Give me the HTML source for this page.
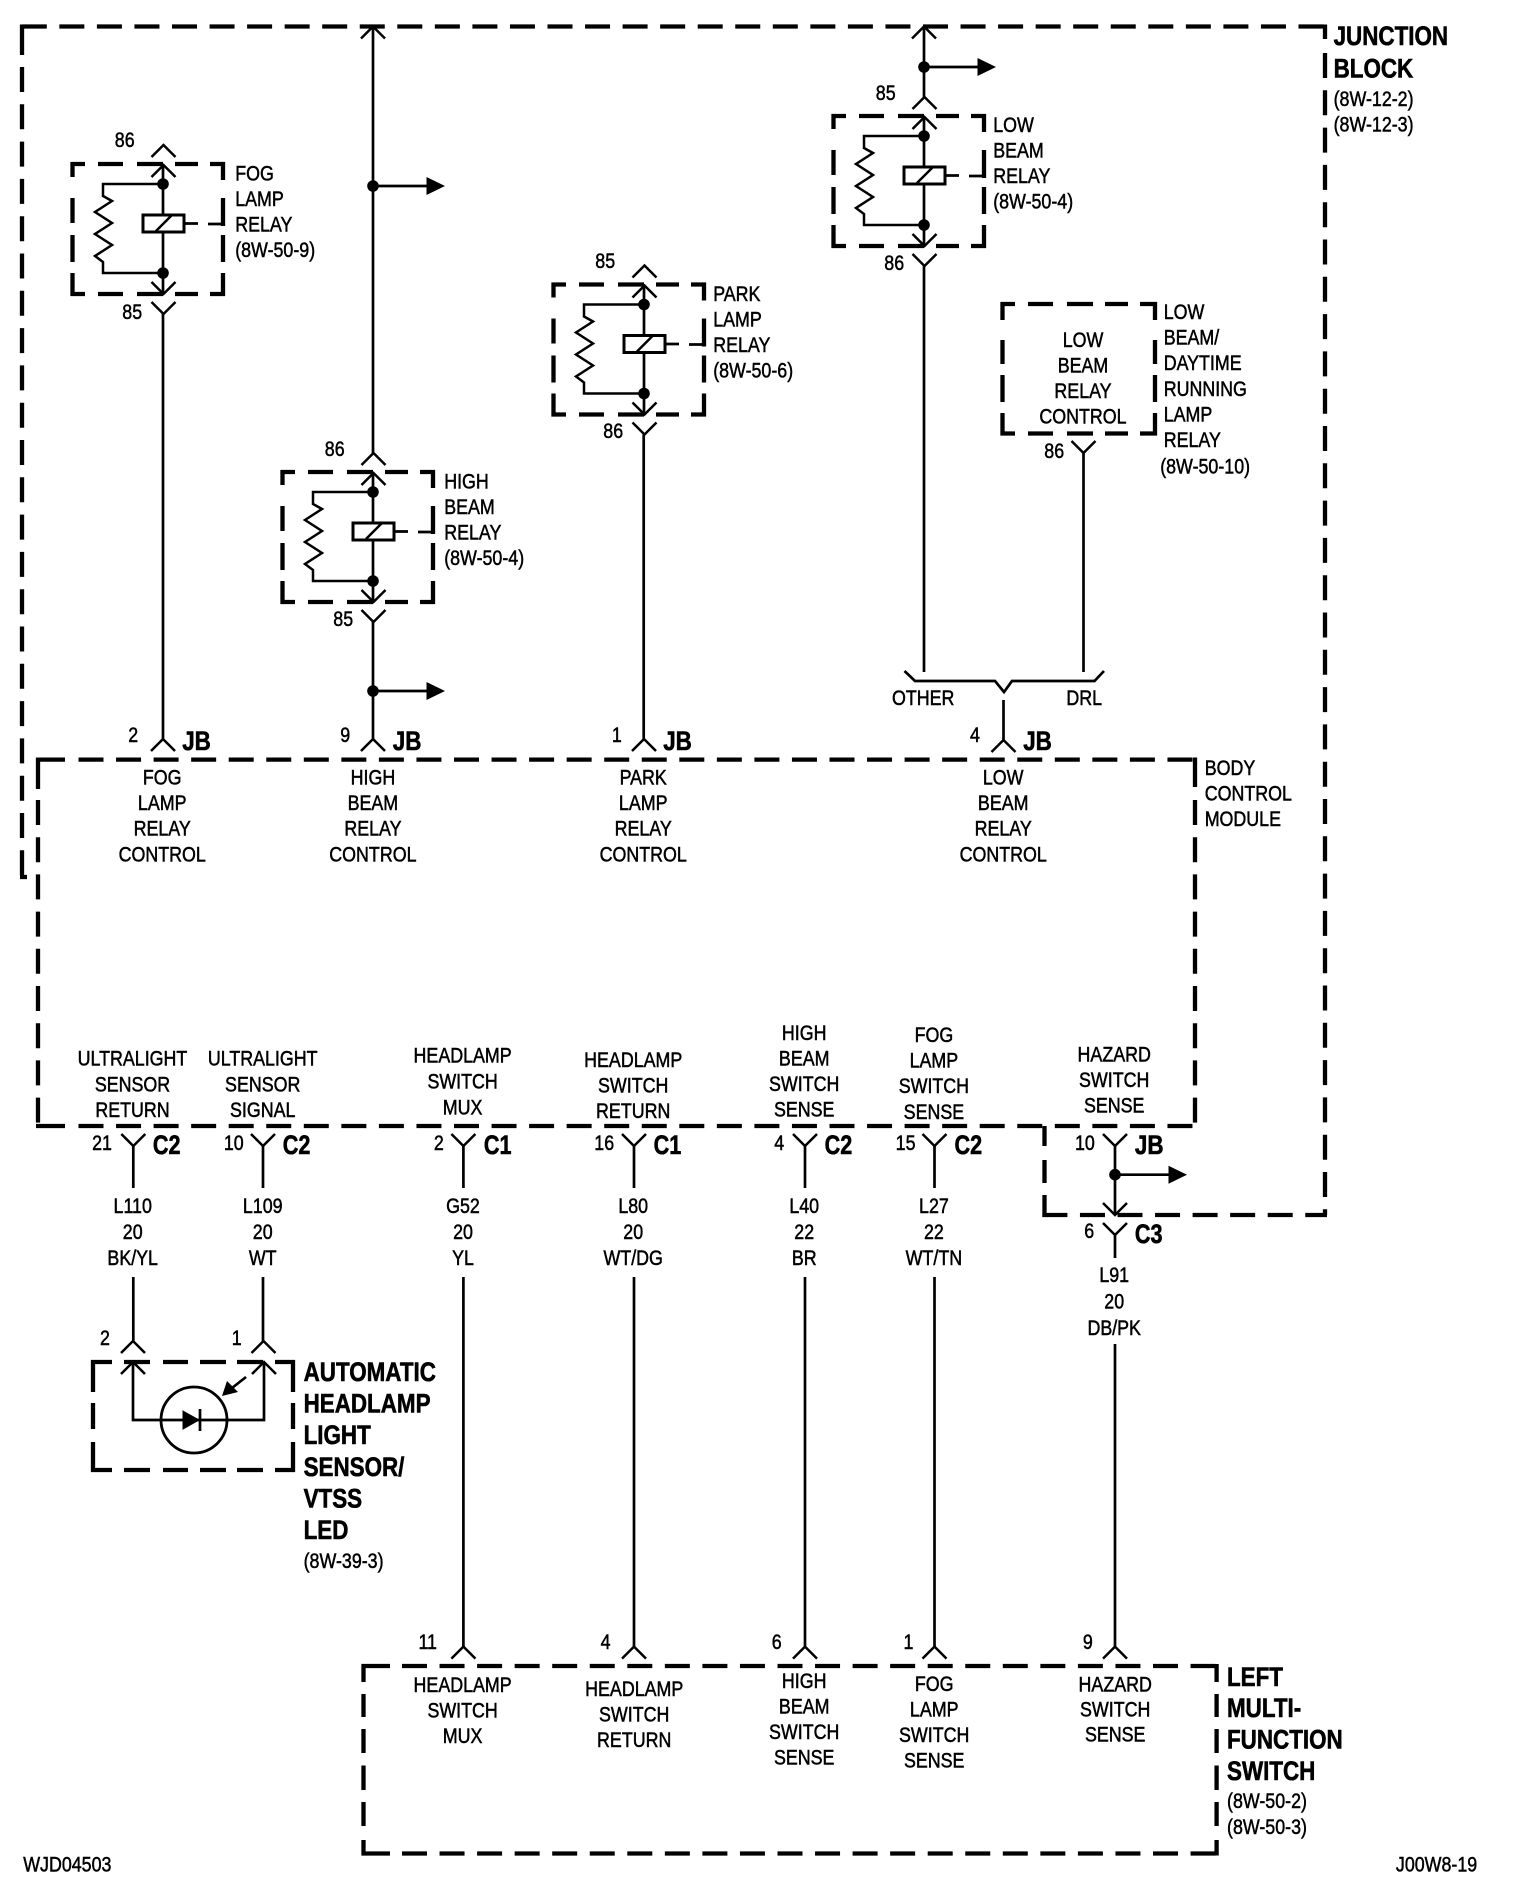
<!DOCTYPE html>
<html><head><meta charset="utf-8"><title>Headlamp relay wiring diagram</title>
<style>
html,body{margin:0;padding:0;background:#fff}
svg{display:block}
text{font-family:"Liberation Sans",sans-serif;font-size:21px;fill:#000;stroke:#000;stroke-width:.5px}
.m{text-anchor:middle}
.b{font-weight:bold;font-size:27px;stroke-width:.6px}
.d{fill:none;stroke:#000;stroke-width:4.3}
.w{fill:none;stroke:#000;stroke-width:2.7}
.c{fill:none;stroke:#000;stroke-width:2.5}
</style></head><body>
<svg width="1520" height="1898" viewBox="0 0 1520 1898" xmlns="http://www.w3.org/2000/svg">
<defs>
<path id="up" class="c" d="M-12 12L0 0L12 12"/>
<path id="dn" class="c" d="M-12 -12L0 0L12 -12"/>
<g id="arrow"><circle r="5.8" fill="#000"/><path d="M0 0H56" class="w"/><path d="M53.5 -9L72 0L53.5 9Z" fill="#000"/></g>
<g id="relay">
<path class="d" d="M70.5 164H85M98 164H123M137 164H163M175 164H198M210 164H225M70.5 294H85M98 294H123M137 294H163M175 294H198M210 294H225M72.5 162V177M72.5 198V223M72.5 235V262M72.5 273V296M223 162V180M223 198V226M223 235V262M223 273V296"/>
<path class="w" d="M208 224H223M184 223.5H198"/>
<path class="w" d="M163 165V294"/>
<path class="c" d="M163 184H103V196L112 201L95 212L112 223L95 234L112 245L95 256L103 262V273H163"/>
<circle cx="163" cy="184" r="5.8" fill="#000"/><circle cx="163" cy="273" r="5.8" fill="#000"/>
<rect x="143" y="215" width="41" height="17" fill="#fff" stroke="#000" stroke-width="3"/>
<path class="c" d="M156 231L172 215"/>
<use href="#up" x="163.5" y="165"/><use href="#up" x="163.5" y="145"/>
<use href="#dn" x="163.5" y="294"/><use href="#dn" x="163.5" y="314"/>
</g>
</defs>
<rect width="1520" height="1898" fill="#fff"/>

<!-- Junction block -->
<path class="d" d="M19.8 26.5H1327" stroke-dasharray="25 12.55" stroke-dashoffset="-2"/>
<path class="d" d="M22 24.5V55"/>
<path class="d" d="M22 67V879" stroke-dasharray="25 12.3"/>
<path class="d" d="M20 877H27"/>
<path class="d" d="M1325 24.5V39"/>
<path class="d" d="M1325 53V1215" stroke-dasharray="25 12.3"/>
<path class="d" d="M1042.4 1215H1327" stroke-dasharray="25 12.55"/>
<path class="d" d="M1044.5 1126V1146M1044.5 1160V1183M1044.5 1195V1217"/>

<!-- Body control module -->
<path class="d" d="M36 759.6H65"/>
<path class="d" d="M78.5 759.6H1197" stroke-dasharray="25 12.55"/>
<path class="d" d="M36 1126H65"/>
<path class="d" d="M78.5 1126H1197" stroke-dasharray="25 12.55"/>
<path class="d" d="M38 757.5V789"/>
<path class="d" d="M38 800V1128" stroke-dasharray="25 12.2"/>
<path class="d" d="M1195 757.5V787"/>
<path class="d" d="M1195 800V1128" stroke-dasharray="25 12.2"/>

<!-- Left multi-function switch -->
<path class="d" d="M361.5 1666H390"/>
<path class="d" d="M402 1666H1218.6" stroke-dasharray="25 12.55"/>
<path class="d" d="M361.5 1853.5H390"/>
<path class="d" d="M402 1853.5H1218.6" stroke-dasharray="25 12.55"/>
<path class="d" d="M363.5 1664V1682M363.5 1694V1717M363.5 1729V1753M363.5 1765.5V1790M363.5 1802V1826M363.5 1840V1855.5"/>
<path class="d" d="M1216.6 1664V1682M1216.6 1694V1717M1216.6 1729V1753M1216.6 1765.5V1790M1216.6 1802V1826M1216.6 1840V1855.5"/>

<!-- Sensor box -->
<path class="d" d="M91 1362H112M124 1362H150M163 1362H188M200 1362H226M237 1362H263M275 1362H295M91 1470H112M124 1470H150M163 1470H188M200 1470H226M237 1470H263M275 1470H295M93 1360V1392M93 1403V1429M93 1442V1472M293 1360V1392M293 1403V1429M293 1442V1472"/>
<path class="w" d="M133 1362V1420H264V1362"/>
<circle cx="194" cy="1420" r="33" fill="none" stroke="#000" stroke-width="2.8"/>
<path d="M183 1411L199 1420L183 1429Z" fill="#000" stroke="#000" stroke-width="1"/>
<path class="w" d="M200 1409V1431"/>
<path class="w" d="M246 1377L232 1388"/>
<path d="M222 1396L227 1381L238 1392Z" fill="#000"/>
<use href="#up" x="133" y="1362"/><use href="#up" x="264" y="1362"/>
<use href="#up" x="133" y="1341"/><use href="#up" x="263.5" y="1341"/>

<!-- Relays -->
<use href="#relay"/>
<use href="#relay" x="210" y="308"/>
<use href="#relay" x="481" y="120.5"/>
<use href="#relay" x="761" y="-48"/>

<!-- DRL box -->
<path class="d" d="M1000.5 304H1015M1028 304H1053M1067 304H1093M1105 304H1128M1140 304H1157M1000.5 433.5H1015M1028 433.5H1053M1067 433.5H1093M1105 433.5H1128M1140 433.5H1157M1002.5 302V320M1002.5 340V364M1002.5 375V402M1002.5 413V435.5M1155 302V320M1155 340V364M1155 375V402M1155 413V435.5"/>

<!-- Wires -->
<path class="w" d="M163 314V739M373 26.5V453M373 622V739M643.7 434.5V739M924 26.5V97M924 266V672M1083.5 453V672M1003.5 700V740"/>
<path class="w" d="M904.5 671L915 681H995L1004 692L1012 681H1094.5L1104 671"/>
<path class="w" d="M133.3 1146V1188M263 1146V1188M463.4 1146V1188M634 1146V1188M805 1146V1188M934.5 1146V1188M1115 1146V1215M1115 1235V1258"/>
<path class="w" d="M133.3 1277V1341M263 1277V1341M463.4 1277V1647M634 1277V1647M805 1277V1647M934.5 1277V1647M1115 1344V1647"/>

<use href="#up" x="373" y="26.5"/><use href="#up" x="924" y="26.5"/>
<use href="#up" x="163" y="739"/><use href="#up" x="373" y="739"/><use href="#up" x="644" y="739"/><use href="#up" x="1003.5" y="740"/>
<use href="#dn" x="1083.5" y="453"/>
<use href="#dn" x="133.3" y="1146"/><use href="#dn" x="263" y="1146"/><use href="#dn" x="463.4" y="1146"/><use href="#dn" x="634" y="1146"/><use href="#dn" x="805" y="1146"/><use href="#dn" x="934.5" y="1146"/><use href="#dn" x="1115" y="1146"/>
<use href="#dn" x="1115" y="1215"/><use href="#dn" x="1115" y="1235"/>
<use href="#up" x="463.4" y="1646.6"/><use href="#up" x="634" y="1646.6"/><use href="#up" x="805" y="1646.6"/><use href="#up" x="934.5" y="1646.6"/><use href="#up" x="1115" y="1646.6"/>

<use href="#arrow" x="373" y="186"/>
<use href="#arrow" x="373" y="691"/>
<use href="#arrow" x="924" y="67"/>
<use href="#arrow" x="1115" y="1174.7"/>

<!-- Labels -->
<g transform="translate(-.8 -1)">
<text transform="translate(236 181.7)scale(.85 1)"><tspan x="0">FOG</tspan><tspan x="0" dy="25.5">LAMP</tspan><tspan x="0" dy="25.5">RELAY</tspan><tspan x="0" dy="25.5">(8W-50-9)</tspan></text>
<text class="m" transform="translate(125.5 148)scale(.85 1)">86</text>
<text class="m" transform="translate(133 320)scale(.85 1)">85</text>

<text transform="translate(445 489.7)scale(.85 1)"><tspan x="0">HIGH</tspan><tspan x="0" dy="25.5">BEAM</tspan><tspan x="0" dy="25.5">RELAY</tspan><tspan x="0" dy="25.5">(8W-50-4)</tspan></text>
<text class="m" transform="translate(335.5 457)scale(.85 1)">86</text>
<text class="m" transform="translate(344 627)scale(.85 1)">85</text>

<text transform="translate(714 302)scale(.85 1)"><tspan x="0">PARK</tspan><tspan x="0" dy="25.5">LAMP</tspan><tspan x="0" dy="25.5">RELAY</tspan><tspan x="0" dy="25.5">(8W-50-6)</tspan></text>
<text class="m" transform="translate(606 269)scale(.85 1)">85</text>
<text class="m" transform="translate(614 439)scale(.85 1)">86</text>

<text transform="translate(994 133)scale(.85 1)"><tspan x="0">LOW</tspan><tspan x="0" dy="25.5">BEAM</tspan><tspan x="0" dy="25.5">RELAY</tspan><tspan x="0" dy="25.5">(8W-50-4)</tspan></text>
<text class="m" transform="translate(886.5 101)scale(.85 1)">85</text>
<text class="m" transform="translate(895 271)scale(.85 1)">86</text>

<text transform="translate(1164.5 320)scale(.85 1)"><tspan x="0">LOW</tspan><tspan x="0" dy="25.5">BEAM/</tspan><tspan x="0" dy="25.7">DAYTIME</tspan><tspan x="0" dy="25.7">RUNNING</tspan><tspan x="0" dy="25.5">LAMP</tspan><tspan x="0" dy="25.7">RELAY</tspan></text>
<text transform="translate(1161 474.7)scale(.85 1)">(8W-50-10)</text>
<text class="m" transform="translate(1083.8 348)scale(.85 1)"><tspan x="0">LOW</tspan><tspan x="0" dy="25.5">BEAM</tspan><tspan x="0" dy="25.5">RELAY</tspan><tspan x="0" dy="25.5">CONTROL</tspan></text>
<text class="m" transform="translate(1055 459)scale(.85 1)">86</text>

<text class="b" transform="translate(1334.4 46)scale(.83 1)"><tspan x="0">JUNCTION</tspan><tspan x="0" dy="32.4">BLOCK</tspan></text>
<text transform="translate(1334.4 107)scale(.85 1)"><tspan x="0">(8W-12-2)</tspan><tspan x="0" dy="25.7">(8W-12-3)</tspan></text>

<text class="m" transform="translate(924 706)scale(.85 1)">OTHER</text>
<text class="m" transform="translate(1085 706)scale(.85 1)">DRL</text>

<!-- JB row -->
<text class="m" transform="translate(134 743)scale(.85 1)">2</text>
<text class="b" transform="translate(183 751)scale(.83 1)">JB</text>
<text class="m" transform="translate(346 743)scale(.85 1)">9</text>
<text class="b" transform="translate(393.6 751)scale(.83 1)">JB</text>
<text class="m" transform="translate(617.6 743)scale(.85 1)">1</text>
<text class="b" transform="translate(664 751)scale(.83 1)">JB</text>
<text class="m" transform="translate(975.7 743)scale(.85 1)">4</text>
<text class="b" transform="translate(1024 751)scale(.83 1)">JB</text>

<!-- BCM top labels -->
<text class="m" transform="translate(163 785.5)scale(.85 1)"><tspan x="0">FOG</tspan><tspan x="0" dy="25.6">LAMP</tspan><tspan x="0" dy="25.6">RELAY</tspan><tspan x="0" dy="25.6">CONTROL</tspan></text>
<text class="m" transform="translate(373.7 785.5)scale(.85 1)"><tspan x="0">HIGH</tspan><tspan x="0" dy="25.6">BEAM</tspan><tspan x="0" dy="25.6">RELAY</tspan><tspan x="0" dy="25.6">CONTROL</tspan></text>
<text class="m" transform="translate(644 785.5)scale(.85 1)"><tspan x="0">PARK</tspan><tspan x="0" dy="25.6">LAMP</tspan><tspan x="0" dy="25.6">RELAY</tspan><tspan x="0" dy="25.6">CONTROL</tspan></text>
<text class="m" transform="translate(1004 785.5)scale(.85 1)"><tspan x="0">LOW</tspan><tspan x="0" dy="25.6">BEAM</tspan><tspan x="0" dy="25.6">RELAY</tspan><tspan x="0" dy="25.6">CONTROL</tspan></text>
<text transform="translate(1205.5 776)scale(.85 1)"><tspan x="0">BODY</tspan><tspan x="0" dy="25.5">CONTROL</tspan><tspan x="0" dy="25.5">MODULE</tspan></text>

<!-- BCM bottom labels -->
<text class="m" transform="translate(133.3 1066.5)scale(.85 1)"><tspan x="0">ULTRALIGHT</tspan><tspan x="0" dy="25.8">SENSOR</tspan><tspan x="0" dy="25.8">RETURN</tspan></text>
<text class="m" transform="translate(263.5 1066.5)scale(.85 1)"><tspan x="0">ULTRALIGHT</tspan><tspan x="0" dy="25.8">SENSOR</tspan><tspan x="0" dy="25.8">SIGNAL</tspan></text>
<text class="m" transform="translate(463.4 1063.7)scale(.85 1)"><tspan x="0">HEADLAMP</tspan><tspan x="0" dy="25.8">SWITCH</tspan><tspan x="0" dy="25.8">MUX</tspan></text>
<text class="m" transform="translate(634 1067.8)scale(.85 1)"><tspan x="0">HEADLAMP</tspan><tspan x="0" dy="25.6">SWITCH</tspan><tspan x="0" dy="25.6">RETURN</tspan></text>
<text class="m" transform="translate(805 1040.8)scale(.85 1)"><tspan x="0">HIGH</tspan><tspan x="0" dy="25.6">BEAM</tspan><tspan x="0" dy="25.6">SWITCH</tspan><tspan x="0" dy="25.6">SENSE</tspan></text>
<text class="m" transform="translate(934.7 1043)scale(.85 1)"><tspan x="0">FOG</tspan><tspan x="0" dy="25.6">LAMP</tspan><tspan x="0" dy="25.6">SWITCH</tspan><tspan x="0" dy="25.6">SENSE</tspan></text>
<text class="m" transform="translate(1115 1062.4)scale(.85 1)"><tspan x="0">HAZARD</tspan><tspan x="0" dy="25.6">SWITCH</tspan><tspan x="0" dy="25.6">SENSE</tspan></text>

<!-- Pin row -->
<text class="m" transform="translate(102.8 1151)scale(.85 1)">21</text>
<text class="b" transform="translate(153.7 1155)scale(.8 1)">C2</text>
<text class="m" transform="translate(234.6 1151)scale(.85 1)">10</text>
<text class="b" transform="translate(283.6 1155)scale(.8 1)">C2</text>
<text class="m" transform="translate(439.6 1151)scale(.85 1)">2</text>
<text class="b" transform="translate(484.7 1155)scale(.8 1)">C1</text>
<text class="m" transform="translate(605 1151)scale(.85 1)">16</text>
<text class="b" transform="translate(654.4 1155)scale(.8 1)">C1</text>
<text class="m" transform="translate(780 1151)scale(.85 1)">4</text>
<text class="b" transform="translate(825.4 1155)scale(.8 1)">C2</text>
<text class="m" transform="translate(906.4 1151)scale(.85 1)">15</text>
<text class="b" transform="translate(955.3 1155)scale(.8 1)">C2</text>
<text class="m" transform="translate(1085.7 1151)scale(.85 1)">10</text>
<text class="b" transform="translate(1135.7 1155)scale(.83 1)">JB</text>
<text class="m" transform="translate(1090 1239)scale(.85 1)">6</text>
<text class="b" transform="translate(1135.7 1244)scale(.8 1)">C3</text>

<!-- Wire labels -->
<text class="m" transform="translate(133.5 1214)scale(.85 1)"><tspan x="0">L110</tspan><tspan x="0" dy="26">20</tspan><tspan x="0" dy="26">BK/YL</tspan></text>
<text class="m" transform="translate(263.5 1214)scale(.85 1)"><tspan x="0">L109</tspan><tspan x="0" dy="26">20</tspan><tspan x="0" dy="26">WT</tspan></text>
<text class="m" transform="translate(463.8 1214)scale(.85 1)"><tspan x="0">G52</tspan><tspan x="0" dy="26">20</tspan><tspan x="0" dy="26">YL</tspan></text>
<text class="m" transform="translate(634 1214)scale(.85 1)"><tspan x="0">L80</tspan><tspan x="0" dy="26">20</tspan><tspan x="0" dy="26">WT/DG</tspan></text>
<text class="m" transform="translate(805 1214)scale(.85 1)"><tspan x="0">L40</tspan><tspan x="0" dy="26">22</tspan><tspan x="0" dy="26">BR</tspan></text>
<text class="m" transform="translate(934.7 1214)scale(.85 1)"><tspan x="0">L27</tspan><tspan x="0" dy="26">22</tspan><tspan x="0" dy="26">WT/TN</tspan></text>
<text class="m" transform="translate(1115 1283)scale(.85 1)"><tspan x="0">L91</tspan><tspan x="0" dy="26.5">20</tspan><tspan x="0" dy="26.5">DB/PK</tspan></text>

<!-- Sensor labels -->
<text class="m" transform="translate(105.7 1346)scale(.85 1)">2</text>
<text class="m" transform="translate(237.5 1346)scale(.85 1)">1</text>
<text class="b" transform="translate(304.4 1382)scale(.83 1)"><tspan x="0">AUTOMATIC</tspan><tspan x="0" dy="31.6">HEADLAMP</tspan><tspan x="0" dy="31.6">LIGHT</tspan><tspan x="0" dy="31.6">SENSOR/</tspan><tspan x="0" dy="31.6">VTSS</tspan><tspan x="0" dy="31.6">LED</tspan></text>
<text transform="translate(304.4 1569)scale(.85 1)">(8W-39-3)</text>

<!-- MFS labels -->
<text class="m" transform="translate(428.5 1650)scale(.85 1)">11</text>
<text class="m" transform="translate(606.4 1650)scale(.85 1)">4</text>
<text class="m" transform="translate(777.5 1650)scale(.85 1)">6</text>
<text class="m" transform="translate(909.3 1650)scale(.85 1)">1</text>
<text class="m" transform="translate(1088.6 1650)scale(.85 1)">9</text>
<text class="m" transform="translate(463.4 1693)scale(.85 1)"><tspan x="0">HEADLAMP</tspan><tspan x="0" dy="25.6">SWITCH</tspan><tspan x="0" dy="25.6">MUX</tspan></text>
<text class="m" transform="translate(635 1697)scale(.85 1)"><tspan x="0">HEADLAMP</tspan><tspan x="0" dy="25.5">SWITCH</tspan><tspan x="0" dy="25.5">RETURN</tspan></text>
<text class="m" transform="translate(805 1689)scale(.85 1)"><tspan x="0">HIGH</tspan><tspan x="0" dy="25.6">BEAM</tspan><tspan x="0" dy="25.6">SWITCH</tspan><tspan x="0" dy="25.4">SENSE</tspan></text>
<text class="m" transform="translate(935 1692)scale(.85 1)"><tspan x="0">FOG</tspan><tspan x="0" dy="25.5">LAMP</tspan><tspan x="0" dy="25.5">SWITCH</tspan><tspan x="0" dy="25.3">SENSE</tspan></text>
<text class="m" transform="translate(1116 1692.3)scale(.85 1)"><tspan x="0">HAZARD</tspan><tspan x="0" dy="25.2">SWITCH</tspan><tspan x="0" dy="25.2">SENSE</tspan></text>
<text class="b" transform="translate(1227.8 1686.8)scale(.83 1)"><tspan x="0">LEFT</tspan><tspan x="0" dy="31.4">MULTI-</tspan><tspan x="0" dy="31.2">FUNCTION</tspan><tspan x="0" dy="31.4">SWITCH</tspan></text>
<text transform="translate(1227.8 1809)scale(.85 1)"><tspan x="0">(8W-50-2)</tspan><tspan x="0" dy="26">(8W-50-3)</tspan></text>

<text transform="translate(24 1872.4)scale(.85 1)">WJD04503</text>
<text style="text-anchor:end" transform="translate(1478 1872.4)scale(.85 1)">J00W8-19</text>
</g>
</svg>
</body></html>
